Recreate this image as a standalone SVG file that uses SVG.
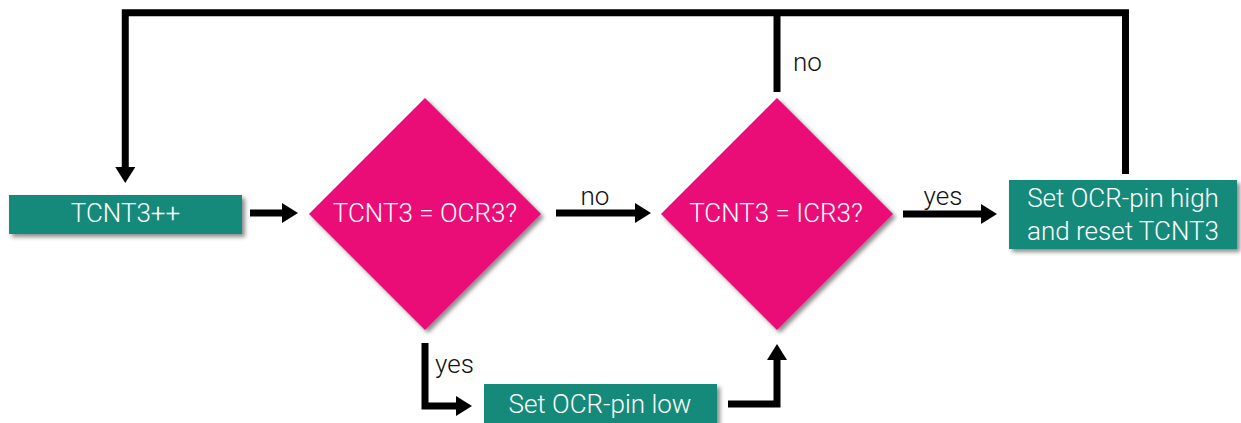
<svg xmlns="http://www.w3.org/2000/svg" width="1241" height="423" viewBox="0 0 1241 423">
  <defs>
    <filter id="shadow" x="-10%" y="-10%" width="130%" height="130%">
      <feDropShadow dx="3" dy="3" stdDeviation="2" flood-color="#000" flood-opacity="0.45"/>
    </filter>
    <marker id="arrow" markerUnits="userSpaceOnUse" markerWidth="18" markerHeight="22" refX="1" refY="10" orient="auto">
      <path d="M0,0 L16,10 L0,20 z" fill="#000"/>
    </marker>
  </defs>
  <style>
    .box { fill: #138A7A; filter: url(#shadow); }
    .dia { fill: #EB0C77; filter: url(#shadow); }
    .txt { font-family: Roboto, "Liberation Sans", sans-serif; font-weight: 300; font-size: 26px; fill: #fff; text-anchor: middle; }
    .lbl { font-family: Roboto, "Liberation Sans", sans-serif; font-weight: 300; font-size: 26px; fill: #111; }
    .wire { fill: none; stroke: #000; stroke-width: 7; stroke-linejoin: miter; }
  </style>
  <rect width="1241" height="423" fill="#fff"/>

  <g id="connectors">
    <path class="wire" d="M1125.5,174 V12.75 H125.25 V168" marker-end="url(#arrow)"/>
    <path class="wire" d="M777,92 V12.75"/>
    <path class="wire" d="M250,213 H283" marker-end="url(#arrow)"/>
    <path class="wire" d="M556,213 H636" marker-end="url(#arrow)"/>
    <path class="wire" d="M903,214 H982" marker-end="url(#arrow)"/>
    <path class="wire" d="M425,343 V406 H457" marker-end="url(#arrow)"/>
    <path class="wire" d="M728,404 H777 V359" marker-end="url(#arrow)"/>
    <text class="lbl" x="793" y="71">no</text>
    <text class="lbl" x="595" y="205" text-anchor="middle">no</text>
    <text class="lbl" x="943" y="205" text-anchor="middle">yes</text>
    <text class="lbl" x="435" y="373">yes</text>
  </g>

  <g id="increment">
    <rect class="box" x="9" y="195" width="233" height="39"/>
    <text class="txt" x="125.5" y="222">TCNT3++</text>
  </g>

  <g id="compare-ocr">
    <polygon class="dia" points="425,98 541,214 425,330 309,214"/>
    <text class="txt" x="425" y="222">TCNT3 = OCR3?</text>
  </g>

  <g id="compare-icr">
    <polygon class="dia" points="777,98 893,214 777,330 661,214"/>
    <text class="txt" x="776" y="222">TCNT3 = ICR3?</text>
  </g>

  <g id="set-high">
    <rect class="box" x="1009" y="180" width="228" height="69"/>
    <text class="txt" x="1123" y="207">Set OCR-pin high</text>
    <text class="txt" x="1123" y="240">and reset TCNT3</text>
  </g>

  <g id="set-low">
    <rect class="box" x="484" y="384" width="233" height="46"/>
    <text class="txt" x="600" y="413">Set OCR-pin low</text>
  </g>
</svg>
